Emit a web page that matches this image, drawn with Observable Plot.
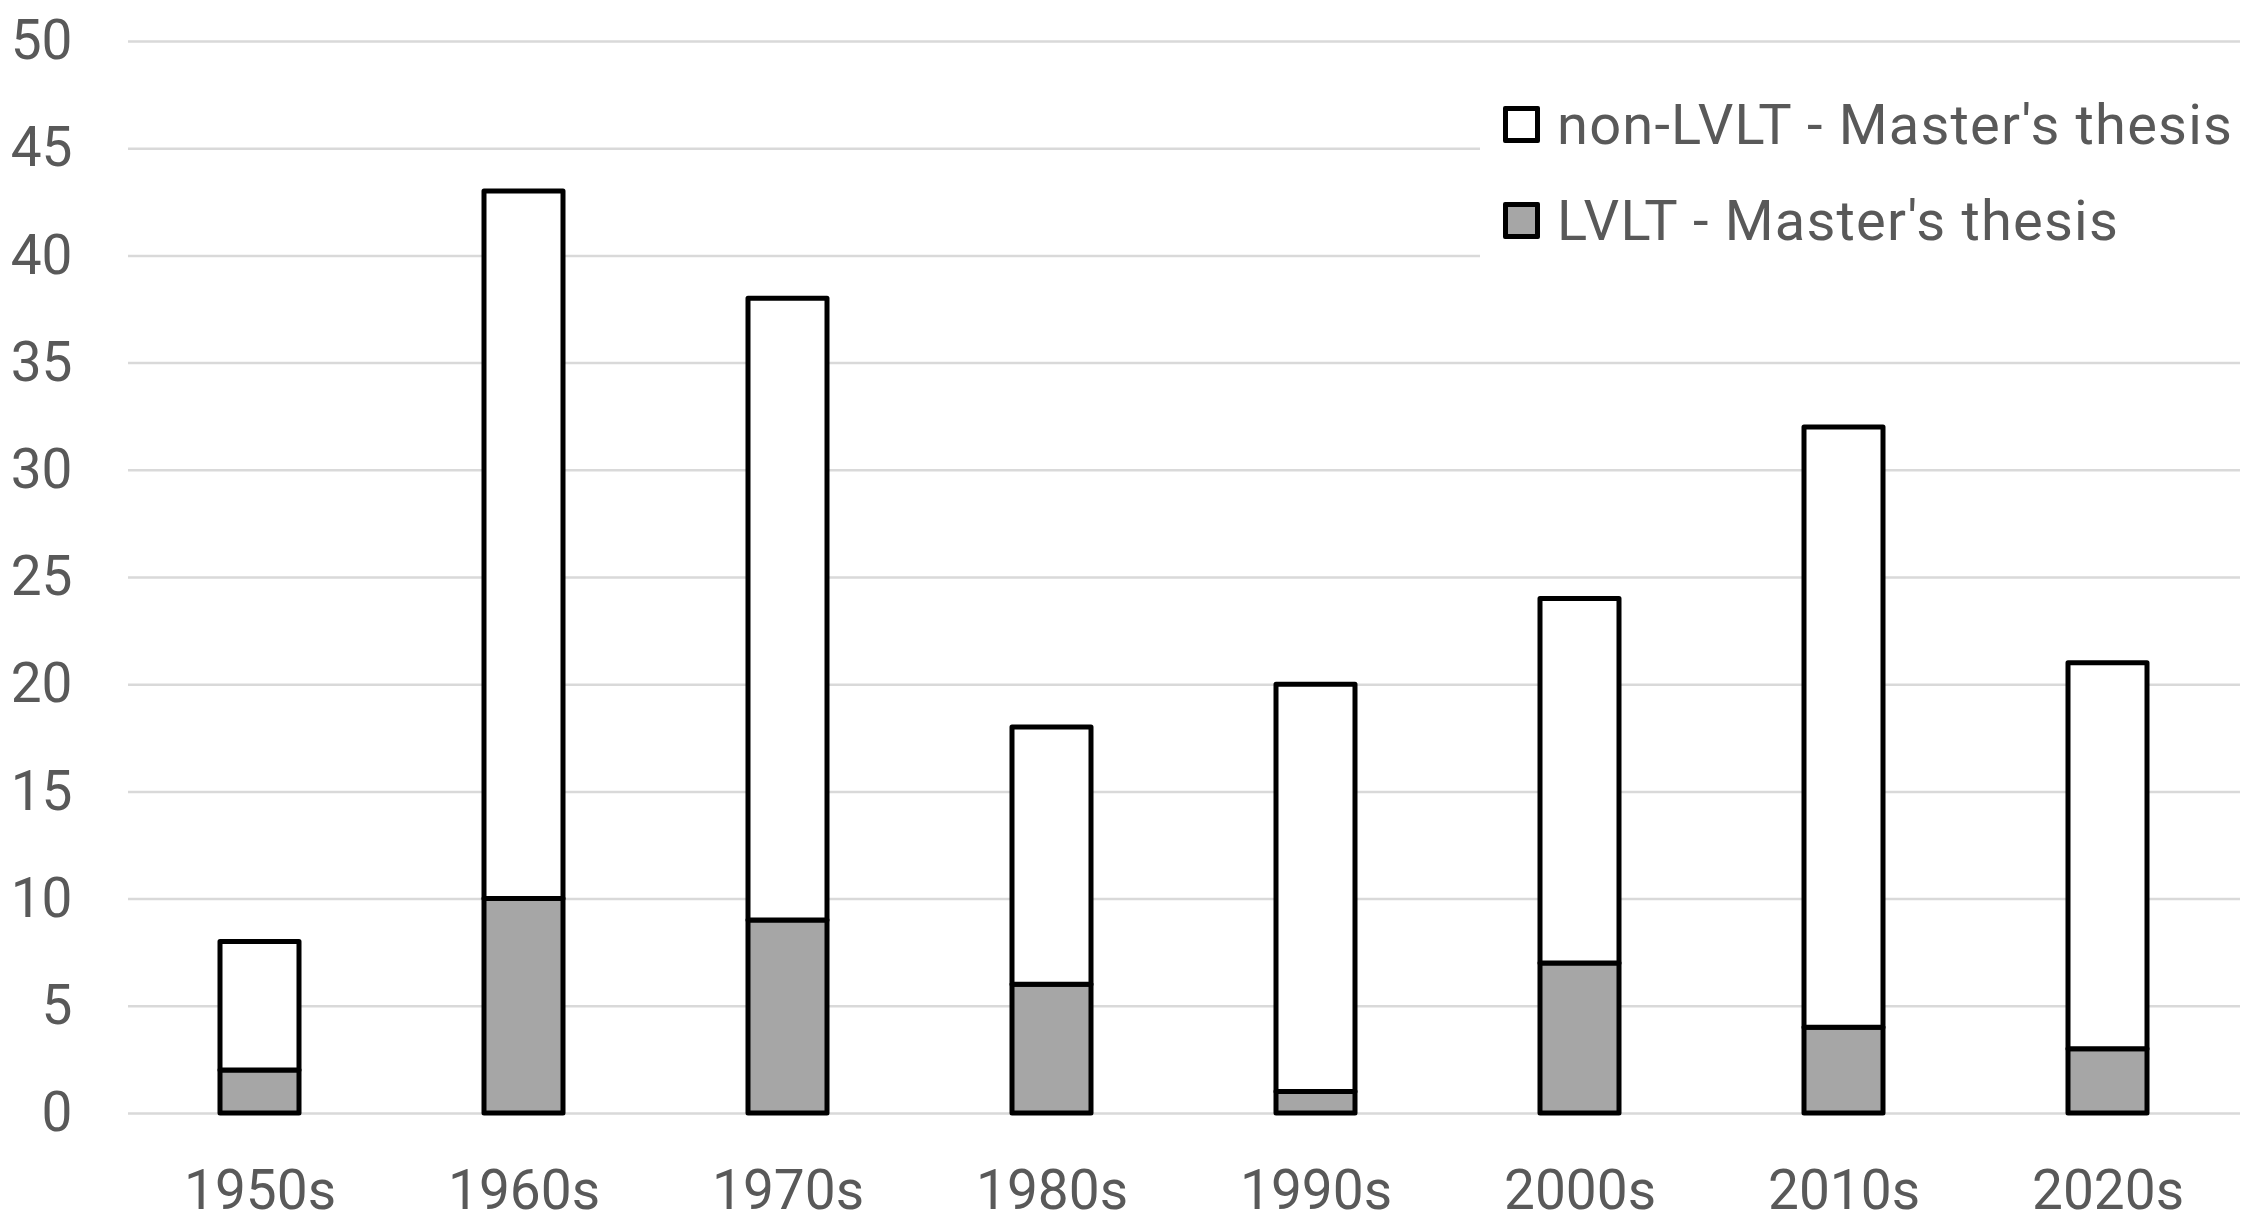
<!DOCTYPE html>
<html>
<head>
<meta charset="utf-8">
<script src="https://cdn.jsdelivr.net/npm/d3@7"></script>
<script src="https://cdn.jsdelivr.net/npm/@observablehq/plot@0.6"></script>
<style>
  html, body { margin: 0; padding: 0; background: #ffffff; }
  #wrap { position: relative; width: 2250px; height: 1226px; font-family: Roboto, "Noto Sans", sans-serif; }
  #legend { position: absolute; left: 1480px; top: 60px; width: 770px; height: 205px; background: #ffffff; }
  .item { position: absolute; left: 23px; display: flex; align-items: center; height: 37px; }
  .sw { width: 37px; height: 37px; box-sizing: border-box; border: 5px solid #000; border-radius: 2px; margin-right: 17px; }
  .lab { font-size: 56px; letter-spacing: 1.2px; color: #595959; white-space: nowrap; line-height: 1; }
</style>
</head>
<body>
<div id="wrap"></div>
<script>
const decades = ["1950s", "1960s", "1970s", "1980s", "1990s", "2000s", "2010s", "2020s"];
const lvlt = [2, 10, 9, 6, 1, 7, 4, 3];
const nonLvlt = [6, 33, 29, 12, 19, 17, 28, 18];
const seriesNames = ["LVLT - Master's thesis", "non-LVLT - Master's thesis"];
const seriesColors = ["#a6a6a6", "#ffffff"];
const yTicks = [0, 5, 10, 15, 20, 25, 30, 35, 40, 45, 50];

const data = decades.flatMap((d, i) => [
  {decade: d, series: seriesNames[0], value: lvlt[i]},
  {decade: d, series: seriesNames[1], value: nonLvlt[i]}
]);

const chart = Plot.plot({
  width: 2250,
  height: 1226,
  marginLeft: 128,
  marginRight: 10,
  marginTop: 41,
  marginBottom: 113,
  style: {fontFamily: "Roboto, 'Noto Sans', sans-serif", background: "#ffffff"},
  x: {domain: decades, paddingInner: 0.7, paddingOuter: 0.35, label: null},
  y: {domain: [0, 50], label: null},
  color: {domain: seriesNames, range: seriesColors},
  marks: [
    Plot.gridY(yTicks, {stroke: "#d9d9d9", strokeOpacity: 1, strokeWidth: 2.5}),
    Plot.axisY({ticks: yTicks, tickSize: 0, tickPadding: 56, fontSize: 55, color: "#595959", label: null}),
    Plot.axisX({tickSize: 0, tickPadding: 56, fontSize: 55, color: "#595959", label: null}),
    Plot.barY(data, Plot.stackY({
      x: "decade",
      y: "value",
      fill: "series",
      order: seriesNames,
      stroke: "#000000",
      strokeWidth: 5,
      strokeLinejoin: "round"
    }))
  ]
});

const wrap = document.getElementById("wrap");
wrap.appendChild(chart);

const legend = document.createElement("div");
legend.id = "legend";
const order = [1, 0];
order.forEach((si, k) => {
  const item = document.createElement("div");
  item.className = "item";
  item.style.top = (46 + k * 96) + "px";
  const sw = document.createElement("div");
  sw.className = "sw";
  sw.style.background = seriesColors[si];
  const lab = document.createElement("span");
  lab.className = "lab";
  lab.textContent = seriesNames[si];
  item.appendChild(sw);
  item.appendChild(lab);
  legend.appendChild(item);
});
wrap.appendChild(legend);
</script>
</body>
</html>
